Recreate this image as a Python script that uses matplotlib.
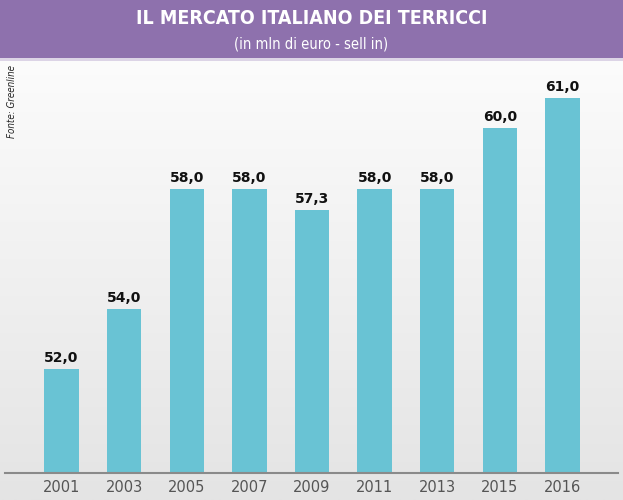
import matplotlib
matplotlib.use("Agg")
import matplotlib.pyplot as plt
import numpy as np
from matplotlib.patches import Rectangle
from matplotlib.colors import LinearSegmentedColormap

years = ["2001", "2003", "2005", "2007", "2009", "2011", "2013", "2015", "2016"]
values = [52.0, 54.0, 58.0, 58.0, 57.3, 58.0, 58.0, 60.0, 61.0]
title = "IL MERCATO ITALIANO DEI TERRICCI"
subtitle = "(in mln di euro - sell in)"
source = "Fonte: Greenline"

W, H = 623, 500
fig = plt.figure(figsize=(W / 100, H / 100), dpi=100)

# background gradient
bg = fig.add_axes([0, 0, 1, 1], zorder=0)
grad = np.linspace(1.0, 0.0, 256).reshape(-1, 1)
cmap = LinearSegmentedColormap.from_list("g", ["#ffffff", "#e4e4e4"])
bg.imshow(grad, aspect="auto", cmap=cmap, extent=[0, 1, 0, 1], origin="lower")
bg.set_xlim(0, 1)
bg.set_ylim(0, 1)
bg.axis("off")
# header
bg.add_patch(Rectangle((0, 1 - 58 / H), 1, 58 / H, color="#8e71ad", lw=0))
bg.add_patch(Rectangle((0, 1 - 61 / H), 1, 3 / H, color="#dcd4e6", lw=0))

fig.text(0.5, 1 - 19 / H, title, ha="center", va="center", color="white",
         fontsize=14, fontweight="bold", fontstretch="condensed", family="DejaVu Sans")
fig.text(0.5, 1 - 44 / H, subtitle, ha="center", va="center", color="white",
         fontsize=10.5, fontstretch="condensed", family="DejaVu Sans")
fig.text(12 / W, 1 - 101 / H, source, rotation=90, ha="center", va="center",
         color="#222222", fontsize=7, style="italic", fontstretch="condensed")

left_px, right_px = 5, 618
bottom_px, top_px = 473, 62
scale = 30.1
ax = fig.add_axes([left_px / W, 1 - bottom_px / H, (right_px - left_px) / W,
                   (bottom_px - top_px) / H], zorder=1)
ax.patch.set_alpha(0)
x = np.arange(len(years))
ax.bar(x, values, width=0.55, color="#69c3d4", zorder=2)
for xi, v in zip(x, values):
    ax.text(xi, v + 7 / scale, f"{v:.1f}".replace(".", ","), ha="center", va="baseline",
            fontsize=10, fontweight="bold", color="#111111")
ax.set_xlim(-0.903, 8.887)
ax.set_ylim(48.55, 48.55 + (bottom_px - top_px) / scale)
ax.set_xticks(x)
ax.set_xticklabels(years, fontsize=10.5, color="#555555")
ax.tick_params(axis="x", length=0, pad=5)
ax.set_yticks([])
for s in ["top", "left", "right"]:
    ax.spines[s].set_visible(False)
ax.spines["bottom"].set_color("#8a8a8a")
ax.spines["bottom"].set_linewidth(1.5)

fig.savefig("out.png", dpi=100)
